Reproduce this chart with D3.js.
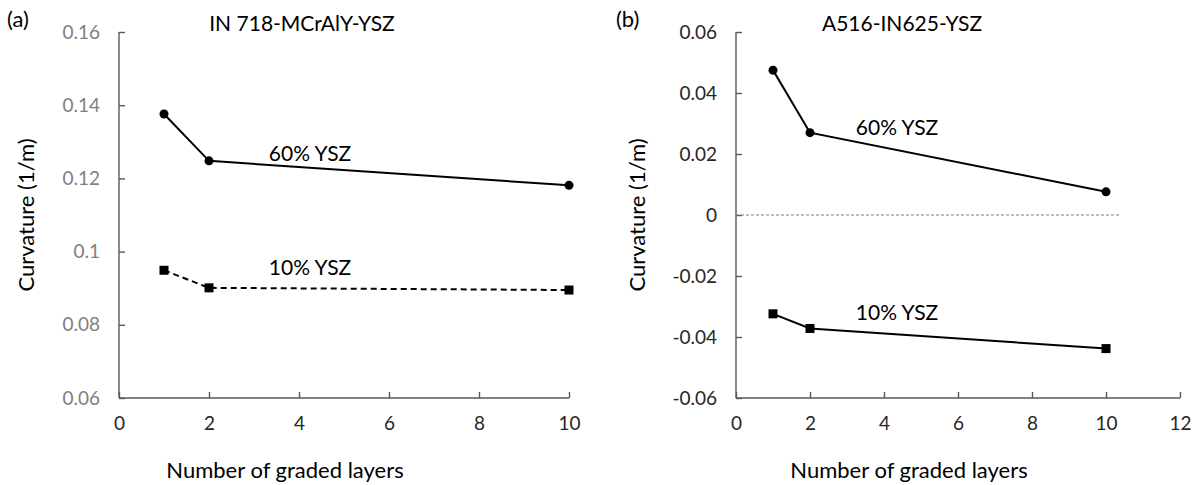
<!DOCTYPE html>
<html>
<head>
<meta charset="utf-8">
<script src="https://cdn.jsdelivr.net/npm/d3@7"></script>
<style>
  body { margin: 0; background: #fff; }
  text { font-family: Lato, "Open Sans", sans-serif; }
</style>
</head>
<body>
<svg id="chart" width="1200" height="485"></svg>
<script>
// graded layers on the x axis
var layers = [1, 2, 10]

// panel (a) IN 718-MCrAlY-YSZ
var a60 = [0.1376, 0.1248, 0.1181]
var a10 = [0.0949, 0.0901, 0.0895]
var aYTicks = [0.06, 0.08, 0.1, 0.12, 0.14, 0.16]
var aXTicks = [0, 2, 4, 6, 8, 10]

// panel (b) A516-IN625-YSZ
var b60 = [0.0475, 0.0270, 0.0076]
var b10 = [-0.0324, -0.0372, -0.0438]
var bYTicks = [-0.06, -0.04, -0.02, 0, 0.02, 0.04, 0.06]
var bXTicks = [0, 2, 4, 6, 8, 10, 12]

var svg = d3.select("#chart")

function panel(opt) {
    var x = d3.scaleLinear().domain(opt.xDomain).range(opt.xRange)
    var y = d3.scaleLinear().domain(opt.yDomain).range([398, 32])
    var g = svg.append("g")

    // excel style labels: plain hyphen for negatives, no trailing zeros
    var fmt = function(d) { return d === 0 ? "0" : String(+d.toFixed(2)) }

    // y axis, ticks point inward
    var ya = g.append("g")
        .attr("transform", "translate(" + opt.xRange[0] + ",0)")
        .call(d3.axisLeft(y).tickValues(opt.yTicks).tickSize(-6).tickPadding(19).tickFormat(fmt))
    ya.selectAll("text").style("font-size", "19px").attr("fill", opt.yTickColor)

    var xa = g.append("g")
        .attr("transform", "translate(0,398)")
        .call(d3.axisBottom(x).tickValues(opt.xTicks).tickSize(-6).tickPadding(19).tickFormat(d3.format("d")))
    xa.selectAll("text").style("font-size", "19px").attr("fill", "#262626")

    g.selectAll(".domain").attr("stroke", "#595959").attr("stroke-width", 1.4)
    g.selectAll(".tick line").attr("stroke", "#595959").attr("stroke-width", 1.4)
    xa.select(".domain").attr("d", "M" + opt.xRange[0] + ",0H" + opt.xRange[1])
    ya.select(".domain").attr("d", "M0,398V32")

    if (opt.zeroLine) {
        g.append("line")
            .attr("x1", x(0)).attr("x2", x(opt.zeroLine))
            .attr("y1", y(0)).attr("y2", y(0))
            .attr("stroke", "#7f7f7f").attr("stroke-width", 1.2)
            .attr("stroke-dasharray", "3,2")
    }

    var line = d3.line().x(function(d, i) { return x(layers[i]) }).y(function(d) { return y(d) })

    g.append("path").datum(opt.s60)
        .attr("d", line).attr("fill", "none")
        .attr("stroke", "#000").attr("stroke-width", 2)
    g.append("path").datum(opt.s10)
        .attr("d", line).attr("fill", "none")
        .attr("stroke", "#000").attr("stroke-width", 2)
        .attr("stroke-dasharray", opt.dash10 ? "6,4" : null)

    g.selectAll("circle").data(opt.s60).enter().append("circle")
        .attr("cx", function(d, i) { return x(layers[i]) })
        .attr("cy", function(d) { return y(d) })
        .attr("r", 4.5).attr("fill", "#000")
    g.selectAll("rect.pt").data(opt.s10).enter().append("rect")
        .attr("class", "pt")
        .attr("x", function(d, i) { return x(layers[i]) - 4.5 })
        .attr("y", function(d) { return y(d) - 4.5 })
        .attr("width", 9).attr("height", 9).attr("fill", "#000")

    // texts
    g.append("text").attr("x", opt.titleX).attr("y", 31)
        .attr("text-anchor", "middle").style("font-size", "21px").attr("fill", "#000")
        .text(opt.title)
    g.append("text").attr("x", opt.letterX).attr("y", 27)
        .style("font-size", "22px").attr("fill", "#000")
        .text(opt.letter)
    g.append("text").attr("x", opt.lab60[0]).attr("y", opt.lab60[1])
        .attr("text-anchor", "middle").style("font-size", "21px").attr("fill", "#000")
        .text("60% YSZ")
    g.append("text").attr("x", opt.lab10[0]).attr("y", opt.lab10[1])
        .attr("text-anchor", "middle").style("font-size", "21px").attr("fill", "#000")
        .text("10% YSZ")
    g.append("text").attr("x", opt.xTitleX).attr("y", 478)
        .attr("text-anchor", "middle").style("font-size", "22px").attr("fill", "#000")
        .text("Number of graded layers")
    g.append("text")
        .attr("transform", "translate(" + opt.yTitleX + ",215) rotate(-90)")
        .attr("text-anchor", "middle").style("font-size", "22px").attr("fill", "#000")
        .text("Curvature (1/m)")
}

panel({
    xDomain: [0, 10], xRange: [119, 569], yDomain: [0.06, 0.16],
    xTicks: aXTicks, yTicks: aYTicks, yTickColor: "#7f7f7f",
    s60: a60, s10: a10, dash10: true,
    title: "IN 718-MCrAlY-YSZ", titleX: 302, letter: "(a)", letterX: 7,
    lab60: [310, 161], lab10: [310, 275], xTitleX: 285, yTitleX: 34
})

panel({
    xDomain: [0, 12], xRange: [736, 1180], yDomain: [-0.06, 0.06],
    xTicks: bXTicks, yTicks: bYTicks, yTickColor: "#262626",
    s60: b60, s10: b10, dash10: false, zeroLine: 10.4,
    title: "A516-IN625-YSZ", titleX: 902, letter: "(b)", letterX: 616,
    lab60: [897, 135], lab10: [897, 320], xTitleX: 909, yTitleX: 645
})
</script>
</body>
</html>
